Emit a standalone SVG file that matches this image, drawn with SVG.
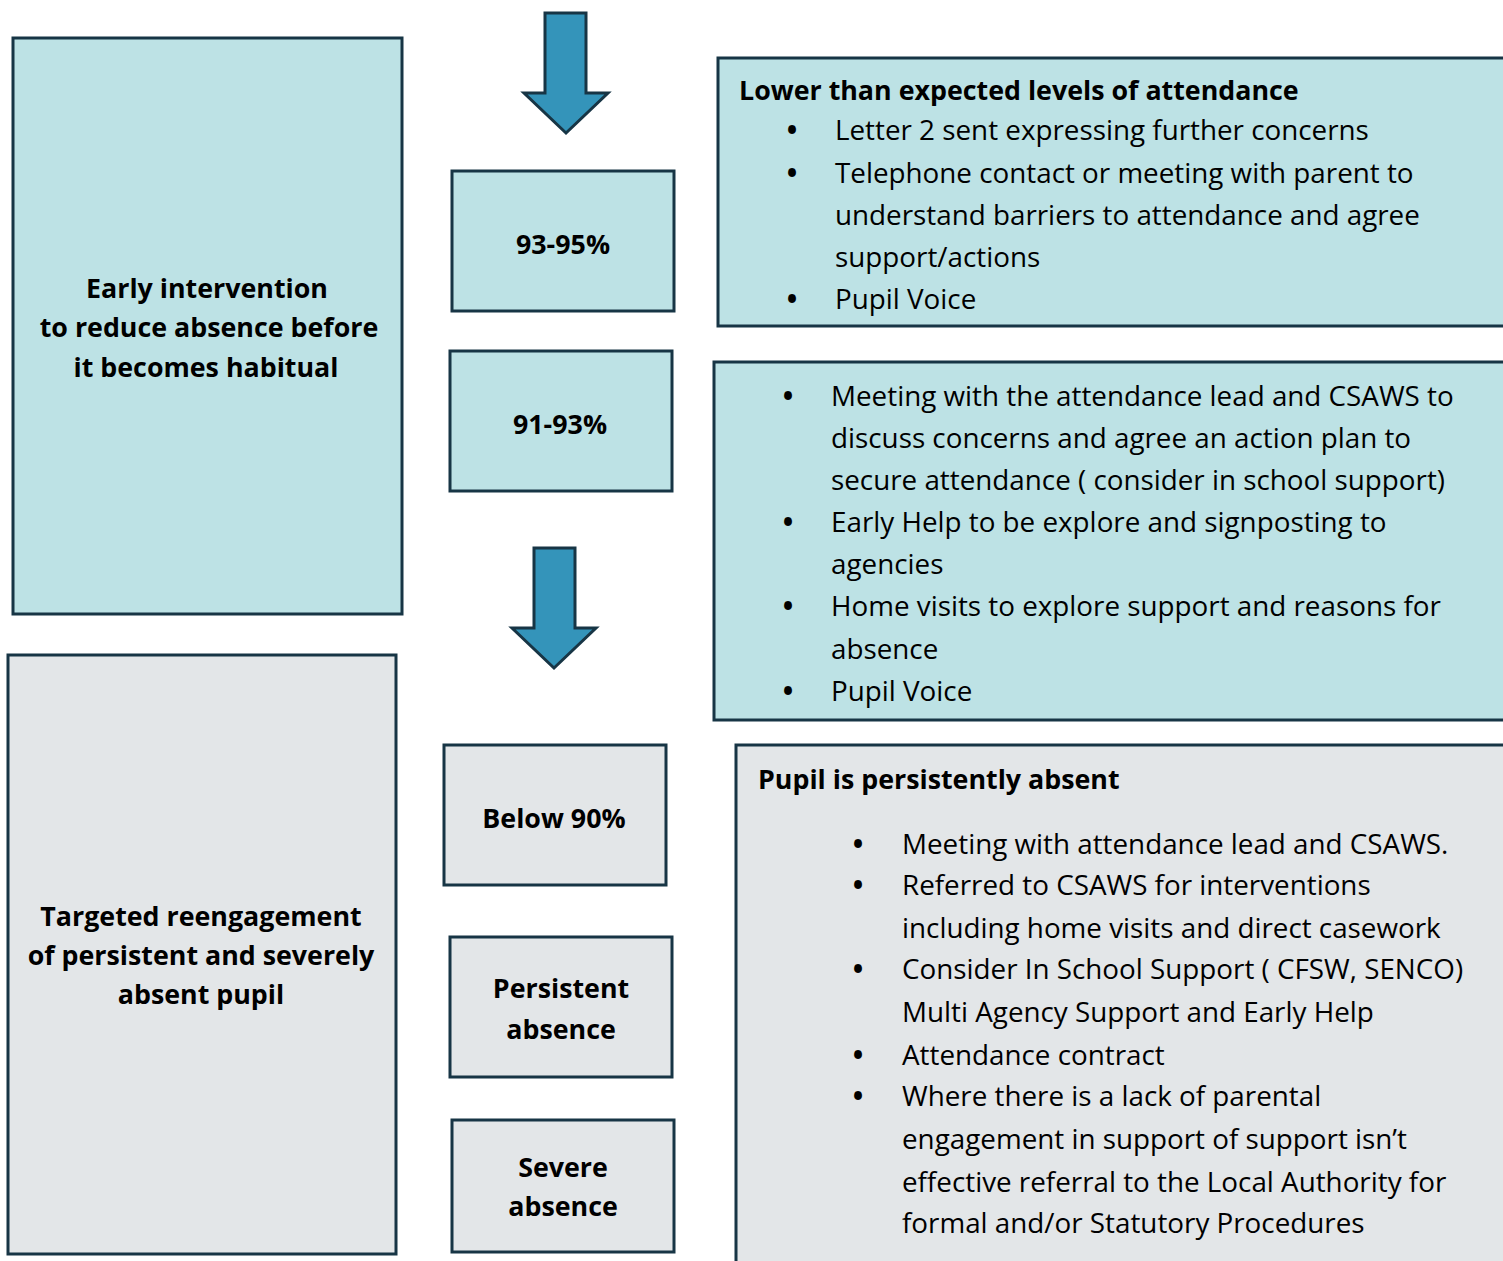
<svg xmlns="http://www.w3.org/2000/svg" width="1503" height="1261" viewBox="0 0 1503 1261">
<style>
.teal{fill:#bde2e5;stroke:#173545;stroke-width:3}
.gray{fill:#e3e6e8;stroke:#173545;stroke-width:3}
.arrow{fill:#3494ba;stroke:#173545;stroke-width:3;stroke-linejoin:miter}
text{font-family:"Open Sans","Liberation Sans",Arial,sans-serif;fill:#000}
.b{font-weight:bold;font-size:26.8px}
.c{text-anchor:middle}
.t{font-size:27.8px}
.d{font-size:28px;font-weight:bold;text-anchor:middle}
</style>
<rect width="1503" height="1261" fill="#fff"/>
<g id="connectors">
<path class="arrow" d="M545,13 H586 V93 H608 L566,133 L524,93 H545 Z"/>
<path class="arrow" d="M534,548 H575 V628 H596 L554,668 L512,628 H534 Z"/>
</g>
<g id="early">
<rect class="teal" x="13" y="38" width="389" height="576"/>
<text class="b c" x="207" y="298">Early intervention</text>
<text class="b c" x="209" y="337">to reduce absence before</text>
<text class="b c" x="206" y="377">it becomes habitual</text>
</g>
<g id="targeted">
<rect class="gray" x="8" y="655" width="388" height="599"/>
<text class="b c" x="201" y="926">Targeted reengagement</text>
<text class="b c" x="201" y="965">of persistent and severely</text>
<text class="b c" x="201" y="1004">absent pupil</text>
</g>
<g id="p9395">
<rect class="teal" x="452" y="171" width="222" height="140"/>
<text class="b c" x="563" y="254">93-95%</text>
</g>
<g id="p9193">
<rect class="teal" x="450" y="351" width="222" height="140"/>
<text class="b c" x="560" y="434">91-93%</text>
</g>
<g id="below90">
<rect class="gray" x="444" y="745" width="222" height="140"/>
<text class="b c" x="554" y="828">Below 90%</text>
</g>
<g id="persistent">
<rect class="gray" x="450" y="937" width="222" height="140"/>
<text class="b c" x="561" y="998">Persistent</text>
<text class="b c" x="561" y="1039">absence</text>
</g>
<g id="severe">
<rect class="gray" x="452" y="1120" width="222" height="132"/>
<text class="b c" x="563" y="1177">Severe</text>
<text class="b c" x="563" y="1216">absence</text>
</g>
<g id="lower">
<rect class="teal" x="718" y="58" width="790" height="268"/>
<text class="b" x="739" y="100">Lower than expected levels of attendance</text>
<g class="t">
<text class="d" x="792" y="140">•</text><text x="835" y="140">Letter 2 sent expressing further concerns</text>
<text class="d" x="792" y="183">•</text><text x="835" y="183">Telephone contact or meeting with parent to</text>
<text x="835" y="225">understand barriers to attendance and agree</text>
<text x="835" y="267">support/actions</text>
<text class="d" x="792" y="309">•</text><text x="835" y="309">Pupil Voice</text>
</g>
</g>
<g id="meeting">
<rect class="teal" x="714" y="362" width="794" height="358"/>
<g class="t">
<text class="d" x="788" y="406">•</text><text x="831" y="406">Meeting with the attendance lead and CSAWS to</text>
<text x="831" y="448">discuss concerns and agree an action plan to</text>
<text x="831" y="490">secure attendance ( consider in school support)</text>
<text class="d" x="788" y="532">•</text><text x="831" y="532">Early Help to be explore and signposting to</text>
<text x="831" y="574">agencies</text>
<text class="d" x="788" y="616">•</text><text x="831" y="616">Home visits to explore support and reasons for</text>
<text x="831" y="659">absence</text>
<text class="d" x="788" y="701">•</text><text x="831" y="701">Pupil Voice</text>
</g>
</g>
<g id="persistently">
<rect class="gray" x="736" y="745" width="772" height="530"/>
<text class="b" x="758" y="789">Pupil is persistently absent</text>
<g class="t">
<text class="d" x="858" y="854">•</text><text x="902" y="854">Meeting with attendance lead and CSAWS.</text>
<text class="d" x="858" y="895">•</text><text x="902" y="895">Referred to CSAWS for interventions</text>
<text x="902" y="938">including home visits and direct casework</text>
<text class="d" x="858" y="979">•</text><text x="902" y="979">Consider In School Support ( CFSW, SENCO)</text>
<text x="902" y="1022">Multi Agency Support and Early Help</text>
<text class="d" x="858" y="1065">•</text><text x="902" y="1065">Attendance contract</text>
<text class="d" x="858" y="1106">•</text><text x="902" y="1106">Where there is a lack of parental</text>
<text x="902" y="1149">engagement in support of support isn’t</text>
<text x="902" y="1192">effective referral to the Local Authority for</text>
<text x="902" y="1233">formal and/or Statutory Procedures</text>
</g>
</g>
</svg>
